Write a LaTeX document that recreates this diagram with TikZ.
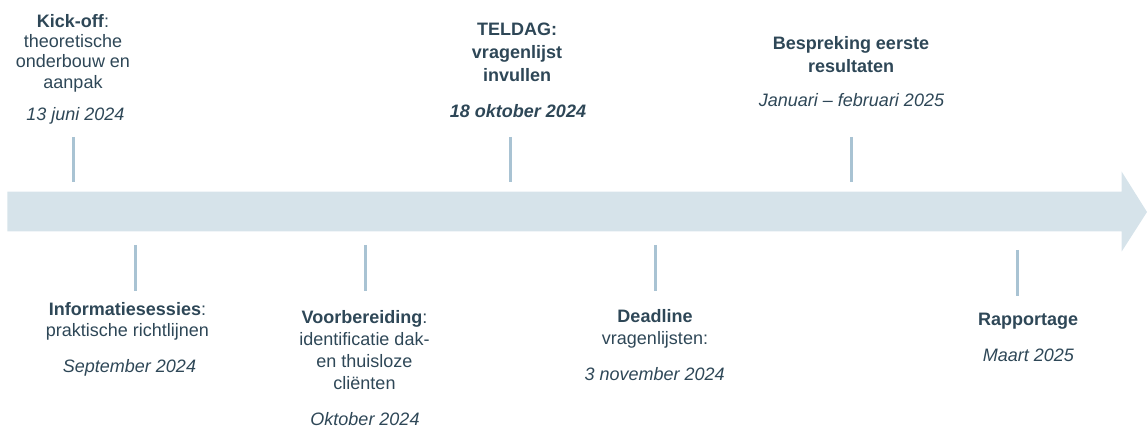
\documentclass[tikz,border=0pt]{standalone}
\usepackage{fontspec}
\setmainfont{Liberation Sans}
\definecolor{txt}{HTML}{2E4757}
\definecolor{tickc}{HTML}{A9C3D3}
\definecolor{arrowc}{HTML}{D6E3EA}
\begin{document}
\begin{tikzpicture}[x=1pt,y=-1pt,
  lbl/.style={anchor=base,inner sep=0pt,align=center,text=txt,font={\fontsize{18}{22}\selectfont}},
  tight/.style={font={\fontsize{18}{20.3}\selectfont}},
  wide/.style={font={\fontsize{18}{22.7}\selectfont}},
  tickline/.style={draw=tickc,line width=3pt},
  timeline/.style={fill=arrowc,draw=none}]
\useasboundingbox (0,0) rectangle (1147,427);
% main arrow
\fill[timeline] (7.3,191.7) -- (1121.7,191.7) -- (1121.7,171.7) -- (1147,212) -- (1121.7,251.5) -- (1121.7,231.5) -- (7.3,231.5) -- cycle;
% top events (base anchor = baseline of last line)
\node[lbl,tight] (kick) at (73,88.2) {\textbf{Kick-off}:\\theoretische\\onderbouw en\\aanpak};
\node[lbl] (kickd) at (75.5,120.7) {\itshape 13 juni 2024};
\coordinate (kt1) at (73,137); \coordinate (kt2) at (73,182);
\draw[tickline] (kt1) -- (kt2);
\node[lbl,wide] (tel) at (517,81.1) {\bfseries TELDAG:\\\bfseries vragenlijst\\\bfseries invullen};
\node[lbl] (teld) at (518,117.3) {\bfseries\itshape 18 oktober 2024};
\coordinate (tt1) at (510,137); \coordinate (tt2) at (510,182);
\draw[tickline] (tt1) -- (tt2);
\node[lbl,wide] (besp) at (851,72.7) {\bfseries Bespreking eerste\\\bfseries resultaten};
\node[lbl] (bespd) at (851.5,107) {\itshape Januari – februari 2025};
\coordinate (bt1) at (851,137); \coordinate (bt2) at (851,182);
\draw[tickline] (bt1) -- (bt2);
% bottom events
\coordinate (it1) at (135,245); \coordinate (it2) at (135,291);
\draw[tickline] (it1) -- (it2);
\node[lbl,font={\fontsize{18}{21.7}\selectfont}] (info) at (127.5,336.7) {\textbf{Informatiesessies}:\\praktische richtlijnen};
\node[lbl] (infod) at (129.5,372.7) {\itshape September 2024};
\coordinate (vt1) at (365,245); \coordinate (vt2) at (365,291);
\draw[tickline] (vt1) -- (vt2);
\node[lbl] (voor) at (364.5,389.3) {\textbf{Voorbereiding}:\\identificatie dak-\\en thuisloze\\cliënten};
\node[lbl] (voord) at (365,425) {\itshape Oktober 2024};
\coordinate (dt1) at (655,245); \coordinate (dt2) at (655,291);
\draw[tickline] (dt1) -- (dt2);
\node[lbl] (dead) at (655,344.3) {\textbf{Deadline}\\vragenlijsten:};
\node[lbl] (deadd) at (654.7,380) {\itshape 3 november 2024};
\coordinate (rt1) at (1017,250); \coordinate (rt2) at (1017,296);
\draw[tickline] (rt1) -- (rt2);
\node[lbl] (rapp) at (1028,325.7) {\bfseries Rapportage};
\node[lbl] (rappd) at (1028.3,361.7) {\itshape Maart 2025};
\end{tikzpicture}
\end{document}
